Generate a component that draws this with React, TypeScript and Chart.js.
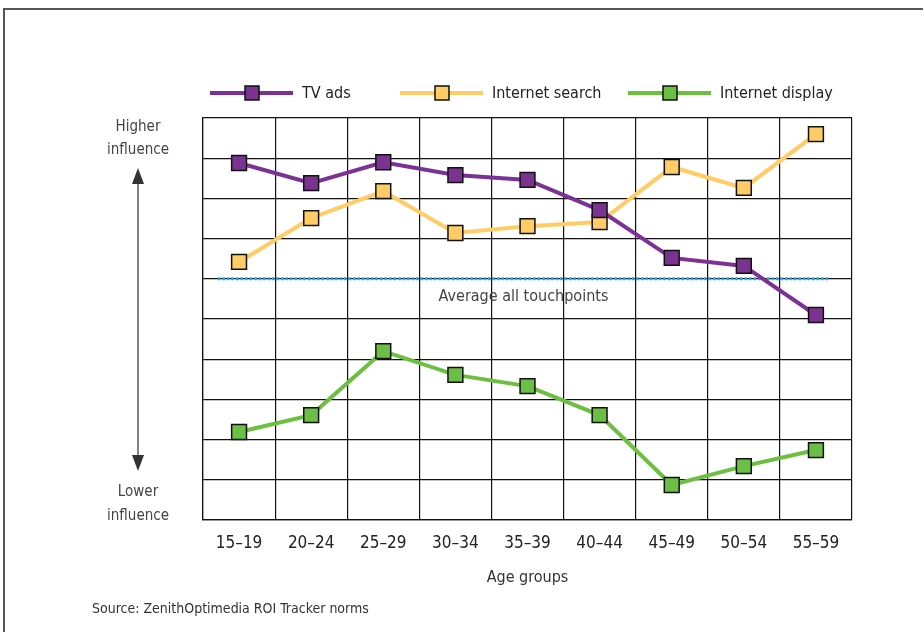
import React, { useEffect, useRef } from "react";
import { Chart, registerables } from "chart.js";

Chart.register(...registerables);

const ageGroups = ["15–19", "20–24", "25–29", "30–34", "35–39", "40–44", "45–49", "50–54", "55–59"];
const tvAds = [8.88, 8.38, 8.9, 8.58, 8.46, 7.71, 6.52, 6.32, 5.1];
const internetSearch = [6.42, 7.51, 8.18, 7.14, 7.31, 7.41, 8.78, 8.26, 9.6];
const internetDisplay = [2.19, 2.61, 4.2, 3.61, 3.33, 2.61, 0.87, 1.34, 1.74];
const averageAll = 6;
const yMin = 0;
const yMax = 10;

const FONT = '"DejaVu Sans Condensed", "Liberation Sans Narrow", "DejaVu Sans", sans-serif';

const colors = {
  tv: { line: "#7b3294", fill: "#7a3391" },
  search: { line: "#ffcc66", fill: "#ffcc66" },
  display: { line: "#6cbf3f", fill: "#6cbf45" },
};

const decorPlugin = {
  id: "decor",
  beforeDraw(chart: any) {
    const { ctx, width, height } = chart;
    ctx.save();
    ctx.fillStyle = "#ffffff";
    ctx.fillRect(0, 0, width, height);
    ctx.strokeStyle = "#555555";
    ctx.lineWidth = 2;
    ctx.beginPath();
    ctx.moveTo(4, height);
    ctx.lineTo(4, 9);
    ctx.lineTo(width, 9);
    ctx.stroke();
    ctx.restore();
  },
  beforeDatasetsDraw(chart: any) {
    const { ctx, chartArea, scales } = chart;
    const y = scales.y.getPixelForValue(averageAll);
    ctx.save();
    ctx.strokeStyle = "#1aaef0";
    ctx.lineWidth = 3;
    ctx.setLineDash([2.5, 2]);
    ctx.beginPath();
    ctx.moveTo(chartArea.left + 15, y);
    ctx.lineTo(chartArea.right - 22, y);
    ctx.stroke();
    ctx.setLineDash([]);
    ctx.fillStyle = "#444444";
    ctx.font = `16px ${FONT}`;
    ctx.textAlign = "center";
    ctx.textBaseline = "middle";
    ctx.fillText("Average all touchpoints", (chartArea.left + chartArea.right) / 2 - 4, y + 18);
    ctx.restore();
  },
  afterDraw(chart: any) {
    const { ctx, chartArea } = chart;
    ctx.save();
    const items = [
      { label: "TV ads", c: colors.tv, x: 210 },
      { label: "Internet search", c: colors.search, x: 400 },
      { label: "Internet display", c: colors.display, x: 628 },
    ];
    const ly = 93;
    items.forEach((it) => {
      ctx.strokeStyle = it.c.line;
      ctx.lineWidth = 4;
      ctx.beginPath();
      ctx.moveTo(it.x, ly);
      ctx.lineTo(it.x + 83, ly);
      ctx.stroke();
      ctx.fillStyle = it.c.fill;
      ctx.fillRect(it.x + 35, ly - 7, 14, 14);
      ctx.strokeStyle = "#111111";
      ctx.lineWidth = 1.5;
      ctx.strokeRect(it.x + 35, ly - 7, 14, 14);
      ctx.fillStyle = "#222222";
      ctx.font = `16px ${FONT}`;
      ctx.textAlign = "left";
      ctx.textBaseline = "middle";
      ctx.fillText(it.label, it.x + 92, ly + 1);
    });
    const ax = 138;
    ctx.fillStyle = "#444444";
    ctx.font = `15px ${FONT}`;
    ctx.textAlign = "center";
    ctx.textBaseline = "middle";
    ctx.fillText("Higher", ax, 127);
    ctx.fillText("influence", ax, 150);
    ctx.fillText("Lower", ax, 492);
    ctx.fillText("influence", ax, 516);
    ctx.strokeStyle = "#333333";
    ctx.lineWidth = 1.2;
    ctx.beginPath();
    ctx.moveTo(ax, 175);
    ctx.lineTo(ax, 462);
    ctx.stroke();
    ctx.fillStyle = "#333333";
    ctx.beginPath();
    ctx.moveTo(ax, 168);
    ctx.lineTo(ax - 6, 184);
    ctx.lineTo(ax + 6, 184);
    ctx.closePath();
    ctx.fill();
    ctx.beginPath();
    ctx.moveTo(ax, 471);
    ctx.lineTo(ax - 6, 455);
    ctx.lineTo(ax + 6, 455);
    ctx.closePath();
    ctx.fill();
    ctx.fillStyle = "#333333";
    ctx.font = `16px ${FONT}`;
    ctx.textAlign = "center";
    ctx.fillText("Age groups", (chartArea.left + chartArea.right) / 2, 578);
    ctx.textAlign = "left";
    ctx.font = `14px ${FONT}`;
    ctx.fillText("Source: ZenithOptimedia ROI Tracker norms", 92, 609);
    ctx.restore();
  },
};

function ds(label: string, data: number[], c: { line: string; fill: string }) {
  return {
    label,
    data,
    borderColor: c.line,
    backgroundColor: c.fill,
    borderWidth: 4,
    pointStyle: "rect" as const,
    pointRadius: 10.5,
    pointBorderColor: "#111111",
    pointBorderWidth: 1.5,
    pointBackgroundColor: c.fill,
    tension: 0,
  };
}

export default function App() {
  const ref = useRef<HTMLCanvasElement>(null);
  useEffect(() => {
    if (!ref.current) return;
    const chart = new Chart(ref.current, {
      type: "line",
      data: {
        labels: ageGroups,
        datasets: [
          ds("TV ads", tvAds, colors.tv),
          ds("Internet search", internetSearch, colors.search),
          ds("Internet display", internetDisplay, colors.display),
        ],
      },
      options: {
        animation: false,
        responsive: false,
        layout: { padding: { left: 193, top: 118, right: 71, bottom: 0 } },
        plugins: { legend: { display: false }, tooltip: { enabled: false } },
        scales: {
          x: {
            offset: true,
            grid: { offset: true, color: "#111111", lineWidth: 1.2, drawTicks: false },
            border: { color: "#111111", width: 1.2 },
            ticks: { color: "#222222", font: { family: FONT, size: 17 }, padding: 13, maxRotation: 0 },
            afterFit: (s: any) => {
              s.height = 112;
            },
          },
          y: {
            min: yMin,
            max: yMax,
            ticks: { display: false, stepSize: 1 },
            grid: { color: "#111111", lineWidth: 1.2, drawTicks: false },
            border: { color: "#111111", width: 1.2 },
            afterFit: (s: any) => {
              s.width = 10;
            },
          },
        },
      },
      plugins: [decorPlugin],
    });
    return () => chart.destroy();
  }, []);
  return (
    <div style={{ position: "fixed", left: 0, top: 0, width: 923, height: 632 }}>
      <canvas ref={ref} width={923} height={632} style={{ width: 923, height: 632, display: "block" }} />
    </div>
  );
}
